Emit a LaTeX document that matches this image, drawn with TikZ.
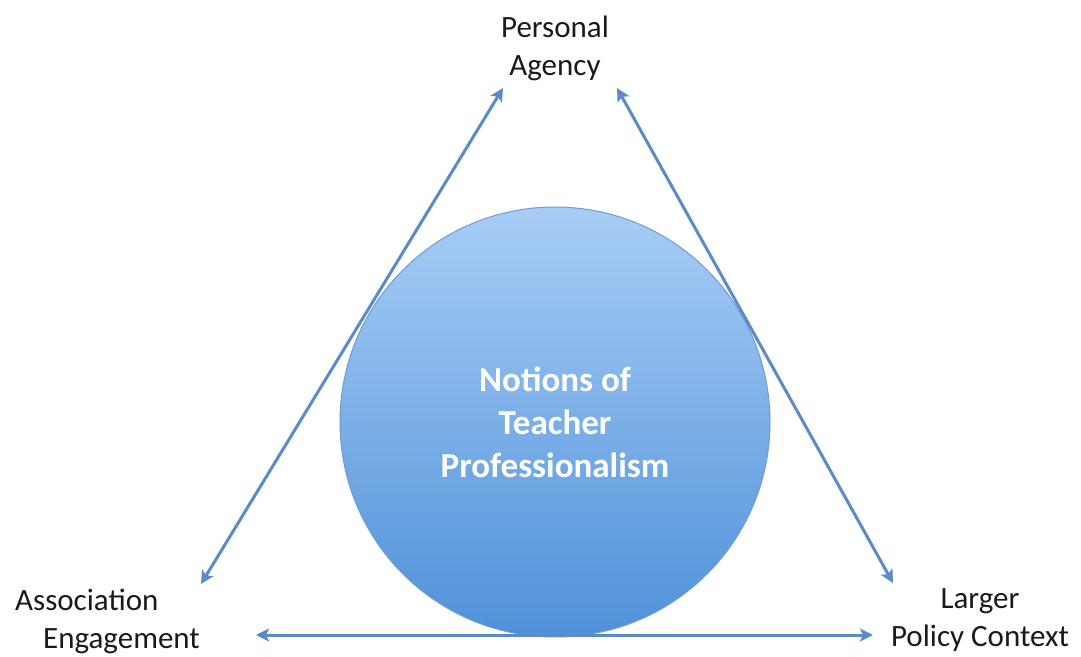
\documentclass[tikz,border=0pt]{standalone}
\usepackage{fontspec}
\setmainfont{Carlito}
\usetikzlibrary{arrows.meta}
\definecolor{arrowblue}{HTML}{5A8BC6}
\definecolor{circtop}{HTML}{A8CDF6}
\definecolor{circbot}{HTML}{4F91D9}
\definecolor{circline}{HTML}{6F9CD2}
\definecolor{labeltext}{HTML}{1A1A1A}
\begin{document}
\begin{tikzpicture}[x=1pt,y=1pt,
  label/.style={font=\fontsize{31}{38}\selectfont, text=labeltext, inner sep=0pt},
  conn/.style={arrowblue, line width=3pt, {Stealth[length=13pt,width=13pt,inset=3pt]}-{Stealth[length=13pt,width=13pt,inset=3pt]}},
  hub/.style={circle, minimum size=430pt, inner sep=0pt, draw=circline, line width=1pt,
    top color=circtop, bottom color=circbot, text=white, align=center,
    font=\bfseries\fontsize{35}{43}\selectfont}]
\useasboundingbox (0,0) rectangle (1081,656);
% tips
\coordinate (tl) at (503,568);
\coordinate (tr) at (617,568);
\coordinate (bl) at (201,72);
\coordinate (br) at (893,73);
\coordinate (hl) at (256,21);
\coordinate (hr) at (873,21);
% circle
\node[hub] (c) at (555,234) {Notions of\\Teacher\\Professionalism};
% arrows
\draw[conn] (bl) -- (tl);
\draw[conn] (br) -- (tr);
\draw[conn] (hl) -- (hr);
% labels
\node[label, align=center] (pa) at (555,608) {Personal\\Agency};
\node[label, align=left, anchor=west] (ae) at (15,35) {Association\\\hspace{28pt}Engagement};
\node[label, align=center] (lp) at (980,36) {Larger\\Policy Context};
\end{tikzpicture}
\end{document}
